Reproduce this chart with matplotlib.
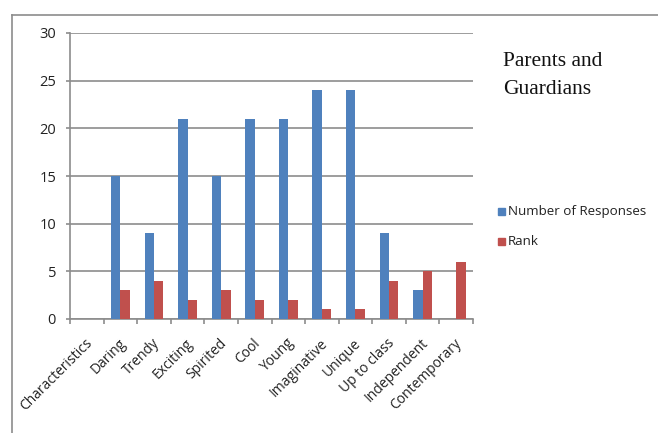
import numpy as np
import matplotlib.pyplot as plt
from matplotlib.lines import Line2D
from matplotlib.patches import Rectangle
import matplotlib.transforms as mtransforms

categories = ["Characteristics", "Daring", "Trendy", "Exciting", "Spirited", "Cool",
              "Young", "Imaginative", "Unique", "Up to class", "Independent", "Contemporary"]
responses = [0, 15, 9, 21, 15, 21, 21, 24, 24, 9, 3, 0]
rank = [0, 3, 4, 2, 3, 2, 2, 1, 1, 4, 5, 6]

blue = "#4F81BD"
red = "#C0504D"
grid_col = "#8C8C8C"
label_font = ["Open Sans", "DejaVu Sans"]

fig = plt.figure(figsize=(6.58, 4.33), dpi=100)
ax = fig.add_axes([70 / 658, 1 - 319 / 433, 403 / 658, 286 / 433])

x = np.arange(len(categories))
w = 0.28
ax.bar(x - w / 2, responses, width=w, color=blue, zorder=3)
ax.bar(x + w / 2, rank, width=w, color=red, zorder=3)

ax.set_xlim(-0.5, len(categories) - 0.5)
ax.set_ylim(0, 30)
ax.set_yticks(range(0, 31, 5))
ax.yaxis.grid(True, color=grid_col, linewidth=1.2, zorder=0)
ax.set_axisbelow(True)

for side in ["top", "right"]:
    ax.spines[side].set_visible(False)
for side in ["left", "bottom"]:
    ax.spines[side].set_color(grid_col)
    ax.spines[side].set_linewidth(1.2)

# ticks between categories on the x axis
ax.set_xticks(np.arange(-0.5, len(categories), 1.0))
ax.set_xticklabels([])
ax.set_xticks(x, minor=True)
ax.tick_params(axis="x", which="major", length=3.5, color=grid_col, width=1.2)
ax.tick_params(axis="x", which="minor", length=0)
ax.tick_params(axis="y", length=3, color=grid_col, width=1.2, pad=7)
for lbl in ax.get_yticklabels():
    lbl.set_family(label_font)
    lbl.set_fontsize(10.5)
    lbl.set_color("#222222")

offset = mtransforms.ScaledTranslation(2.5 / 72, -16 / 72, fig.dpi_scale_trans)
for xi, name in zip(x, categories):
    ax.text(xi, 0, name, rotation=45, rotation_mode="anchor", ha="right", va="center",
            transform=ax.get_xaxis_transform() + offset, family=label_font,
            fontsize=10, color="#222222")

fig.text(503 / 658, 1 - 52 / 433, "Parents and\nGuardians", family="Liberation Serif",
         fontsize=15.5, va="top", ha="left", linespacing=1.65, color="#111111")

# legend entries
for yy, col, name in [(211, blue, "Number of Responses"), (241, red, "Rank")]:
    fig.patches.append(Rectangle((498 / 658, 1 - (yy + 4) / 433), 7 / 658, 7 / 433,
                                 transform=fig.transFigure, color=col))
    fig.text(508 / 658, 1 - yy / 433, name, family=label_font, fontsize=9.6,
             va="center", ha="left", color="#222222")

# outer frame (top and left edges)
fig.lines.append(Line2D([12 / 658, 1], [1 - 15 / 433, 1 - 15 / 433],
                        transform=fig.transFigure, color="#8C8C8C", linewidth=1.2))
fig.lines.append(Line2D([12 / 658, 12 / 658], [1 - 15 / 433, 0],
                        transform=fig.transFigure, color="#8C8C8C", linewidth=1.2))

fig.savefig("out.png", dpi=100)
